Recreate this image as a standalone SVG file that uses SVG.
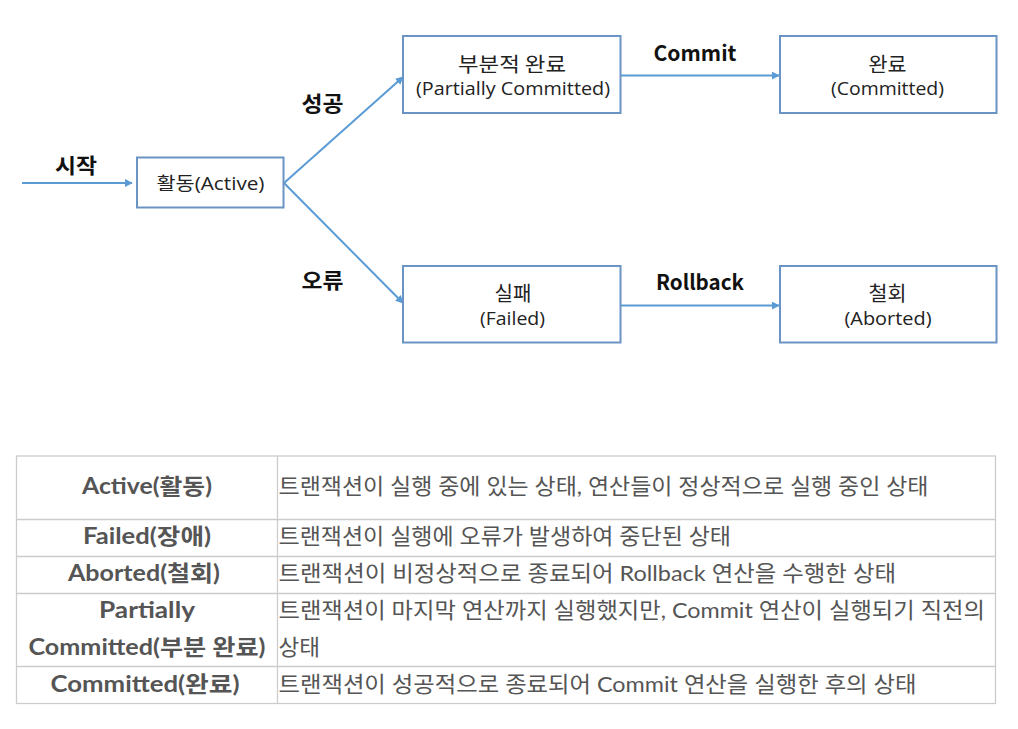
<svg xmlns="http://www.w3.org/2000/svg" width="1018" height="729" viewBox="0 0 1018 729">
<style>
.box{fill:#fff;stroke:#6a94c4;stroke-width:2}
.bt{font-family:"Noto Sans CJK KR","Liberation Sans",sans-serif;font-size:20px;fill:#222;text-anchor:middle}
.bl{font-family:"Open Sans","Noto Sans CJK KR",sans-serif;font-size:18px;fill:#222;text-anchor:middle}
.lbl{font-family:"Noto Sans CJK KR","Liberation Sans",sans-serif;font-size:21px;font-weight:bold;fill:#111;text-anchor:middle}
.con{stroke:#5b9bd5;stroke-width:2;fill:none;marker-end:url(#ah)}
.grid{stroke:#cccccc;stroke-width:1.3;fill:none}
.th{font-family:Lato,"Noto Sans CJK KR",sans-serif;font-size:22px;font-weight:bold;fill:#555;text-anchor:middle}
.td{font-family:Lato,"Noto Sans CJK KR",sans-serif;font-size:22px;fill:#555}
</style>
<defs>
<marker id="ah" viewBox="0 0 10 10" refX="9" refY="5" markerWidth="4" markerHeight="4" orient="auto" markerUnits="strokeWidth">
<path d="M0,0 L10,5 L0,10 z" fill="#5b9bd5"/>
</marker>
</defs>
<rect width="1018" height="729" fill="#fff"/>
<g id="connectors">
<line class="con" x1="22" y1="183" x2="132" y2="183"/>
<line class="con" x1="284" y1="183" x2="403" y2="77"/>
<line class="con" x1="284" y1="183" x2="403" y2="303"/>
<line class="con" x1="621" y1="75.5" x2="779" y2="75.5"/>
<line class="con" x1="621" y1="305.5" x2="779" y2="305.5"/>
<text class="lbl" x="76" y="173" textLength="42" lengthAdjust="spacingAndGlyphs">시작</text>
<text class="lbl" x="322.5" y="111" textLength="42" lengthAdjust="spacingAndGlyphs">성공</text>
<text class="lbl" x="322.5" y="288" textLength="42" lengthAdjust="spacingAndGlyphs">오류</text>
<text class="lbl" x="695" y="61" textLength="83" lengthAdjust="spacingAndGlyphs">Commit</text>
<text class="lbl" x="700" y="290" textLength="88" lengthAdjust="spacingAndGlyphs">Rollback</text>
</g>
<g id="active">
<rect class="box" x="137" y="157.5" width="146.5" height="50"/>
<text class="bl" x="210.5" y="190" textLength="108" lengthAdjust="spacingAndGlyphs">활동(Active)</text>
</g>
<g id="partial">
<rect class="box" x="403" y="36" width="217.5" height="77"/>
<text class="bt" x="512" y="72" textLength="108" lengthAdjust="spacingAndGlyphs">부분적 완료</text>
<text class="bl" x="513" y="95" textLength="194" lengthAdjust="spacingAndGlyphs">(Partially Committed)</text>
</g>
<g id="committed">
<rect class="box" x="780" y="36" width="216.5" height="77"/>
<text class="bt" x="887.5" y="72" textLength="38" lengthAdjust="spacingAndGlyphs">완료</text>
<text class="bl" x="887.5" y="95" textLength="113" lengthAdjust="spacingAndGlyphs">(Committed)</text>
</g>
<g id="failed">
<rect class="box" x="403" y="266" width="217.5" height="76.5"/>
<text class="bt" x="513" y="301" textLength="37" lengthAdjust="spacingAndGlyphs">실패</text>
<text class="bl" x="512.5" y="325" textLength="65" lengthAdjust="spacingAndGlyphs">(Failed)</text>
</g>
<g id="aborted">
<rect class="box" x="780" y="266" width="216.5" height="76.5"/>
<text class="bt" x="887.5" y="301" textLength="38" lengthAdjust="spacingAndGlyphs">철회</text>
<text class="bl" x="888" y="325" textLength="87" lengthAdjust="spacingAndGlyphs">(Aborted)</text>
</g>
<g id="table">
<rect class="grid" x="16.5" y="456" width="979" height="247.5"/>
<line class="grid" x1="277.5" y1="456" x2="277.5" y2="703.5"/>
<line class="grid" x1="16.5" y1="519.5" x2="995.5" y2="519.5"/>
<line class="grid" x1="16.5" y1="556.5" x2="995.5" y2="556.5"/>
<line class="grid" x1="16.5" y1="593.5" x2="995.5" y2="593.5"/>
<line class="grid" x1="16.5" y1="666.5" x2="995.5" y2="666.5"/>
<text class="th" x="147" y="494" textLength="130" lengthAdjust="spacingAndGlyphs">Active(활동)</text>
<text class="th" x="147" y="544" textLength="128" lengthAdjust="spacingAndGlyphs">Failed(장애)</text>
<text class="th" x="144" y="581" textLength="152" lengthAdjust="spacingAndGlyphs">Aborted(철회)</text>
<text class="th" x="147" y="618" textLength="96" lengthAdjust="spacingAndGlyphs">Partially</text>
<text class="th" x="147" y="655" textLength="237" lengthAdjust="spacingAndGlyphs">Committed(부분 완료)</text>
<text class="th" x="145" y="692" textLength="189" lengthAdjust="spacingAndGlyphs">Committed(완료)</text>
<text class="td" x="278.5" y="494" textLength="650" lengthAdjust="spacingAndGlyphs">트랜잭션이 실행 중에 있는 상태, 연산들이 정상적으로 실행 중인 상태</text>
<text class="td" x="278.5" y="544" textLength="452.5" lengthAdjust="spacingAndGlyphs">트랜잭션이 실행에 오류가 발생하여 중단된 상태</text>
<text class="td" x="278.5" y="581" textLength="617.5" lengthAdjust="spacingAndGlyphs">트랜잭션이 비정상적으로 종료되어 Rollback 연산을 수행한 상태</text>
<text class="td" x="278.5" y="618" textLength="706.5" lengthAdjust="spacingAndGlyphs">트랜잭션이 마지막 연산까지 실행했지만, Commit 연산이 실행되기 직전의</text>
<text class="td" x="278.5" y="655" textLength="41.5" lengthAdjust="spacingAndGlyphs">상태</text>
<text class="td" x="278.5" y="692" textLength="638" lengthAdjust="spacingAndGlyphs">트랜잭션이 성공적으로 종료되어 Commit 연산을 실행한 후의 상태</text>
</g>
</svg>
